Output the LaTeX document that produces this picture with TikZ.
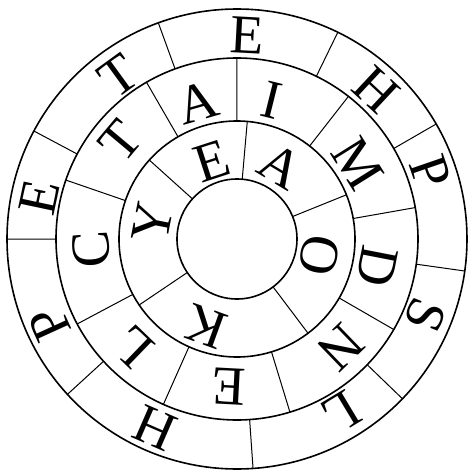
\documentclass[tikz,border=0pt]{standalone}
\usepackage{fontspec}
\setmainfont{Liberation Serif}
\usepackage{tikz}

\tikzset{
  ring/.style={line width=1.6pt},
  spoke/.style={line width=1pt},
  ltr/.style={inner sep=0pt,font=\fontsize{55}{55}\selectfont}
}

\begin{document}
\begin{tikzpicture}[x=1pt,y=1pt]
\useasboundingbox (-237,-233) rectangle (230,239);
\coordinate (c) at (0,0);
\draw[ring] (c) circle (230) (c) circle (181) (c) circle (118) (c) circle (60);
% outer ring
\draw[spoke] (152:181) -- (152:230) (110:181) -- (110:230) (64:181) -- (64:230)
    (30:181) -- (30:230) (-8:181) -- (-8:230) (-44:181) -- (-44:230)
    (-86:181) -- (-86:230) (-137.5:181) -- (-137.5:230) (180:181) -- (180:230);
% middle ring
\draw[spoke] (90:118) -- (90:181) (120:118) -- (120:181) (161:118) -- (161:181)
    (208:118) -- (208:181) (246:118) -- (246:181) (287:118) -- (287:181)
    (330:118) -- (330:181) (10:118) -- (10:181) (52:118) -- (52:181);
% inner ring
\draw[spoke] (85:60) -- (85:118) (138:60) -- (138:118) (214:60) -- (214:118)
    (307:60) -- (307:118) (22:60) -- (22:118);
% letters, feet to the middle
\node[ltr,rotate=-3] (o1) at (87:204) {E};
\node[ltr,rotate=-43] (o2) at (47:204) {H};
\node[ltr,rotate=-71] (o3) at (19:205) {P};
\node[ltr,rotate=-112] (o4) at (-22:203) {S};
\node[ltr,rotate=-149] (o5) at (-59:202) {L};
\node[ltr,rotate=-203.5] (o6) at (-113.5:206) {H};
\node[ltr,rotate=-245.5] (o7) at (-155.5:206) {P};
\node[ltr,rotate=78] (o8) at (168:202) {E};
\node[ltr,rotate=36] (o9) at (126:202) {T};
\node[ltr,rotate=-14] (m1) at (76:143) {I};
\node[ltr,rotate=16] (m2) at (106:142) {A};
\node[ltr,rotate=50] (m3) at (140:152) {T};
\node[ltr,rotate=94] (m4) at (184:146) {C};
\node[ltr,rotate=136] (m5) at (226:150) {L};
\node[ltr,rotate=177] (m6) at (267:148) {E};
\node[ltr,rotate=-136] (m7) at (-46:150) {N};
\node[ltr,rotate=-101] (m8) at (-11:143) {D};
\node[ltr,rotate=-58] (m9) at (32:142) {M};
\node[ltr,rotate=18] (i1) at (108:82) {E};
\node[ltr,rotate=-31] (i2) at (59:85) {A};
\node[ltr,rotate=-101] (i3) at (-11:84) {O};
\node[ltr,rotate=-200] (i4) at (-110:93) {K};
\node[ltr,rotate=79] (i5) at (169:86) {Y};
\end{tikzpicture}
\end{document}
